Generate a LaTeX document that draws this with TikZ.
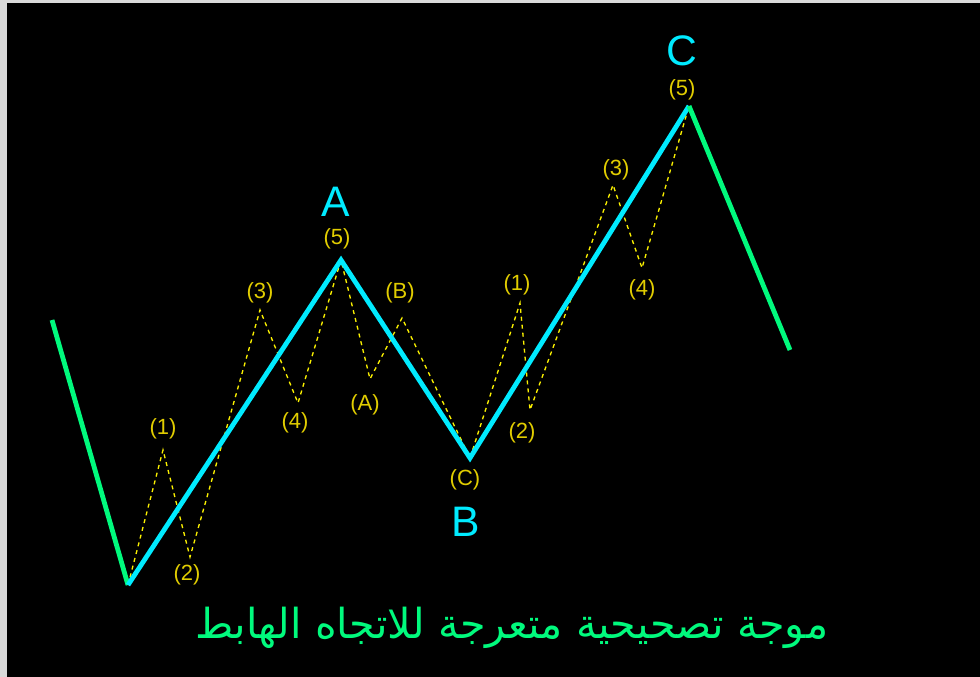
\documentclass[tikz,border=0pt]{standalone}
\usepackage{fontspec}
\setmainfont{Liberation Sans}
\newfontfamily\arabicfont[Script=Arabic]{DejaVu Sans}
\TeXXeTstate=1
\definecolor{wavecyan}{RGB}{0,235,255}
\definecolor{wavegreen}{RGB}{0,250,125}
\definecolor{subgold}{RGB}{225,205,0}
\definecolor{subdash}{RGB}{250,240,0}
\definecolor{framegray}{RGB}{217,217,217}
\begin{document}
\begin{tikzpicture}[x=0.75pt, y=-0.75pt,
    impulse/.style={wavecyan, line width=3.6pt, line join=miter},
    trend/.style={wavegreen, line width=3.6pt},
    subwave/.style={subdash, line width=1pt, dash pattern=on 3pt off 3pt},
    sublabel/.style={subgold, inner sep=0pt, font=\fontsize{16.5}{16.5}\selectfont},
    mainlabel/.style={wavecyan, inner sep=0pt, font=\fontsize{32}{32}\selectfont}]
  \fill[framegray] (0,0) rectangle (980,677);
  \fill[black] (7,3) rectangle (980,677);
  \useasboundingbox (0,0) rectangle (980,677);
  % main swings
  \coordinate (start) at (52,320);
  \coordinate (low) at (128,585);
  \coordinate (topA) at (341,260);
  \coordinate (lowB) at (470,458);
  \coordinate (topC) at (689,106);
  \coordinate (finish) at (790,350);
  % sub waves
  \coordinate (a1) at (163,450);
  \coordinate (a2) at (190,557);
  \coordinate (a3) at (260,310);
  \coordinate (a4) at (298,403);
  \coordinate (bA) at (370,379);
  \coordinate (bB) at (402,318);
  \coordinate (c1) at (520,303);
  \coordinate (c2) at (530,410);
  \coordinate (c3) at (613,185);
  \coordinate (c4) at (642,268);
  \draw[subwave] (low) -- (a1) -- (a2) -- (a3) -- (a4) -- (topA)
    -- (bA) -- (bB) -- (lowB) -- (c1) -- (c2) -- (c3) -- (c4) -- (topC);
  \draw[trend] (start) -- (low);
  \draw[impulse] (low) -- (topA) -- (lowB) -- (topC);
  \draw[trend] (topC) -- (finish);
  % labels
  \node[sublabel] (la1) at (163,429) {(1)};
  \node[sublabel] (la2) at (187,575) {(2)};
  \node[sublabel] (la3) at (260,293) {(3)};
  \node[sublabel] (la4) at (295,423) {(4)};
  \node[sublabel] (la5) at (337,239) {(5)};
  \node[sublabel] (lbA) at (365,405) {(A)};
  \node[sublabel] (lbB) at (400,293) {(B)};
  \node[sublabel] (lbC) at (465,480) {(C)};
  \node[sublabel] (lc1) at (517,285) {(1)};
  \node[sublabel] (lc2) at (522,433) {(2)};
  \node[sublabel] (lc3) at (616,170) {(3)};
  \node[sublabel] (lc4) at (642,290) {(4)};
  \node[sublabel] (lc5) at (682,90) {(5)};
  \node[mainlabel] (nameA) at (336,202) {A};
  \node[mainlabel] (nameB) at (466,522) {B};
  \node[mainlabel] (nameC) at (682,51) {C};
  \node[wavegreen, inner sep=0pt, font=\arabicfont\fontsize{31}{31}\selectfont] (title) at (512,628)
    {\beginR موجة تصحيحية متعرجة للاتجاه الهابط\endR};
\end{tikzpicture}
\end{document}
